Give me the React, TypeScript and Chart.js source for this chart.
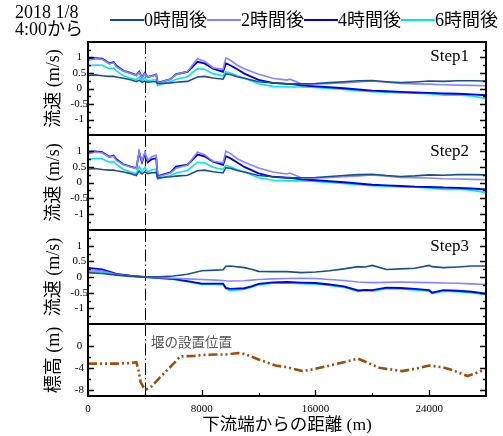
import React, { useEffect, useRef } from "react";
import { Chart, registerables } from "chart.js";

Chart.register(...registerables);

const SERIF = "'Liberation Serif', 'Noto Sans CJK JP', serif";

const seriesLabels = ["0時間後", "2時間後", "4時間後", "6時間後"];
const seriesColors = ["#1B4F8C", "#8585FF", "#0000E6", "#00E5F2"];
const stepLabels = ["Step1", "Step2", "Step3"];
const dateLine1 = "2018 1/8";
const dateLine2 = "4:00から";
const weirLabel = "堰の設置位置";
const velocityTitle = "流速 (m/s)";
const elevationTitle = "標高 (m)";
const distanceTitle = "下流端からの距離 (m)";

// distances (m) for Step1 / Step2
const distStep12 = [0, 500, 1000, 1500, 1800, 2000, 2500, 3000, 3400, 3600, 3800, 4000, 4200, 4500, 4800, 4900, 5200, 5800, 6200, 7000, 7700, 8200, 8800, 9500, 9700, 10000, 10500, 11000, 12000, 13000, 14000, 14200, 15000, 16000, 17000, 18000, 19000, 20000, 21000, 22000, 23000, 24000, 25000, 26000, 27000, 28000];

const step1H0 = [0.42, 0.44, 0.41, 0.39, 0.39, 0.37, 0.33, 0.28, 0.22, 0.27, 0.2, 0.24, 0.2, 0.22, 0.22, 0.16, 0.16, 0.18, 0.2, 0.23, 0.37, 0.39, 0.34, 0.3, 0.47, 0.45, 0.38, 0.33, 0.22, 0.18, 0.15, 0.15, 0.15, 0.16, 0.19, 0.22, 0.25, 0.26, 0.22, 0.19, 0.21, 0.24, 0.23, 0.25, 0.25, 0.24];
const step1H2 = [0.9, 0.96, 0.94, 0.8, 0.83, 0.7, 0.56, 0.49, 0.42, 0.52, 0.36, 0.48, 0.37, 0.4, 0.44, 0.17, 0.22, 0.3, 0.45, 0.55, 0.96, 0.88, 0.67, 0.62, 0.99, 0.92, 0.75, 0.64, 0.46, 0.33, 0.27, 0.3, 0.15, 0.14, 0.16, 0.18, 0.21, 0.24, 0.2, 0.16, 0.15, 0.14, 0.12, 0.11, 0.1, 0.09];
const step1H4 = [0.97, 0.98, 0.96, 0.81, 0.85, 0.73, 0.57, 0.5, 0.43, 0.54, 0.36, 0.5, 0.37, 0.41, 0.45, 0.18, 0.22, 0.3, 0.46, 0.54, 0.86, 0.81, 0.64, 0.54, 0.81, 0.75, 0.62, 0.48, 0.28, 0.18, 0.15, 0.15, 0.1, 0.07, 0.04, 0.01, -0.03, -0.07, -0.09, -0.11, -0.13, -0.14, -0.16, -0.17, -0.19, -0.22];
const step1H6 = [0.73, 0.76, 0.75, 0.64, 0.66, 0.57, 0.41, 0.33, 0.28, 0.37, 0.25, 0.35, 0.24, 0.27, 0.28, 0.09, 0.15, 0.22, 0.3, 0.38, 0.64, 0.62, 0.48, 0.41, 0.54, 0.5, 0.41, 0.33, 0.15, 0.07, 0.05, 0.05, 0.05, 0.03, 0.0, -0.03, -0.07, -0.1, -0.12, -0.14, -0.15, -0.17, -0.22, -0.21, -0.24, -0.32];

const step2H0 = [0.42, 0.44, 0.41, 0.39, 0.39, 0.37, 0.33, 0.28, 0.22, 0.36, 0.27, 0.34, 0.28, 0.31, 0.32, 0.14, 0.16, 0.18, 0.2, 0.23, 0.37, 0.39, 0.34, 0.3, 0.47, 0.45, 0.38, 0.33, 0.22, 0.18, 0.15, 0.15, 0.15, 0.16, 0.19, 0.22, 0.25, 0.26, 0.22, 0.19, 0.21, 0.24, 0.23, 0.25, 0.25, 0.24];
const step2H2 = [0.9, 0.96, 0.94, 0.8, 0.83, 0.7, 0.56, 0.49, 0.44, 0.97, 0.68, 0.95, 0.7, 0.82, 0.86, 0.18, 0.22, 0.3, 0.45, 0.55, 0.96, 0.88, 0.67, 0.62, 0.99, 0.92, 0.75, 0.64, 0.46, 0.33, 0.27, 0.3, 0.15, 0.14, 0.16, 0.18, 0.21, 0.24, 0.2, 0.16, 0.15, 0.14, 0.12, 0.11, 0.1, 0.09];
const step2H4 = [0.97, 0.98, 0.96, 0.81, 0.85, 0.73, 0.57, 0.5, 0.45, 0.95, 0.64, 0.9, 0.64, 0.74, 0.76, 0.2, 0.24, 0.32, 0.5, 0.56, 0.88, 0.83, 0.66, 0.56, 0.83, 0.77, 0.63, 0.49, 0.29, 0.18, 0.15, 0.15, 0.1, 0.07, 0.04, 0.01, -0.03, -0.07, -0.09, -0.11, -0.13, -0.14, -0.16, -0.17, -0.19, -0.22];
const step2H6 = [0.73, 0.76, 0.75, 0.64, 0.66, 0.57, 0.41, 0.33, 0.28, 0.5, 0.36, 0.47, 0.34, 0.4, 0.42, 0.11, 0.15, 0.22, 0.3, 0.38, 0.64, 0.62, 0.48, 0.41, 0.54, 0.5, 0.41, 0.33, 0.15, 0.07, 0.05, 0.05, 0.05, 0.03, 0.0, -0.03, -0.07, -0.1, -0.12, -0.14, -0.15, -0.17, -0.22, -0.21, -0.24, -0.32];

// distances (m) for Step3
const distStep3 = [0, 1000, 2000, 3000, 4000, 5000, 6000, 7000, 8000, 9000, 9500, 9700, 10000, 11000, 11500, 12000, 13000, 14000, 15000, 16000, 17000, 18000, 19000, 19500, 20000, 21000, 22000, 23000, 24000, 24200, 25000, 26000, 27000, 28000];
const step3H0 = [0.14, 0.11, 0.06, 0.02, 0, 0.01, 0.03, 0.09, 0.2, 0.22, 0.23, 0.34, 0.35, 0.3, 0.25, 0.18, 0.17, 0.17, 0.14, 0.16, 0.2, 0.26, 0.33, 0.32, 0.37, 0.24, 0.26, 0.28, 0.37, 0.33, 0.3, 0.32, 0.35, 0.35];
const step3H2 = [0.24, 0.2, 0.08, 0.03, 0, -0.02, -0.04, -0.06, -0.08, -0.1, -0.11, -0.12, -0.13, -0.12, -0.1, -0.08, -0.06, -0.05, -0.04, -0.05, -0.08, -0.11, -0.16, -0.17, -0.18, -0.17, -0.16, -0.17, -0.18, -0.18, -0.19, -0.2, -0.22, -0.24];
const step3H4 = [0.29, 0.24, 0.1, 0.04, 0, -0.03, -0.06, -0.13, -0.21, -0.21, -0.21, -0.35, -0.38, -0.36, -0.3, -0.22, -0.17, -0.16, -0.18, -0.19, -0.24, -0.3, -0.43, -0.41, -0.42, -0.34, -0.35, -0.38, -0.42, -0.5, -0.42, -0.44, -0.47, -0.53];
const step3H6 = [0.18, 0.16, 0.08, 0.03, 0, -0.04, -0.08, -0.15, -0.24, -0.24, -0.25, -0.38, -0.44, -0.39, -0.33, -0.25, -0.2, -0.19, -0.21, -0.22, -0.27, -0.33, -0.46, -0.44, -0.45, -0.37, -0.38, -0.41, -0.45, -0.53, -0.45, -0.47, -0.51, -0.56];

// bed elevation
const distBed = [0, 2000, 3000, 3400, 3550, 3700, 3900, 4100, 4500, 5000, 5500, 6000, 6500, 7500, 8000, 9000, 9700, 10600, 11000, 12000, 13200, 14000, 15100, 16000, 17000, 18000, 19000, 20500, 22100, 23000, 24000, 24900, 25500, 26700, 28000];
const bedElevation = [-3.15, -3.15, -3.05, -2.9, -4.3, -6.5, -7.4, -7.8, -7.2, -5.8, -4.5, -3.2, -1.85, -1.75, -1.6, -1.5, -1.5, -1.25, -1.4, -2.4, -3.5, -3.8, -4.5, -4.1, -3.5, -2.9, -2.25, -3.9, -4.5, -4.1, -3.5, -3.8, -4.2, -5.4, -4.2];
const bedColor = "#9A4F10";

const xTickLabels = [0, 8000, 16000, 24000];
const xMinorTicks = [4000, 12000, 20000];
const velTickLabels = [-1, -0.5, 0, 0.5, 1];
const velMajor = [-1, -0.5, 0, 0.5, 1];
const velMinor = [-1.25, -0.75, -0.25, 0.25, 0.75, 1.25];
const elevTickLabels = [0, -4, -8];
const elevMajor = [0, -4, -8];
const elevMinor = [2, -2, -6];
const weirDistance = 4000;

type PanelSpec = {
  top: number;
  height: number;
  padTop: number;
  padBottom: number;
  datasets: any[];
  yMin: number;
  yMax: number;
  yLabels: number[];
  major: number[];
  minor: number[];
  yTitle: string;
  tickPad: number;
  showX: boolean;
};

function velocitySets(xs: number[], series: number[][]) {
  return series.map((vals, i) => ({
    label: seriesLabels[i],
    data: xs.map((x, j) => ({ x, y: vals[j] })),
    borderColor: seriesColors[i],
    borderWidth: i === 2 ? 1.9 : 1.6,
    pointRadius: 0,
    tension: 0,
    fill: false,
  }));
}

const panels: PanelSpec[] = [
  { top: 30, height: 117, padTop: 12, padBottom: 12, datasets: velocitySets(distStep12, [step1H0, step1H2, step1H4, step1H6]), yMin: -1.5, yMax: 1.5, yLabels: velTickLabels, major: velMajor, minor: velMinor, yTitle: velocityTitle, tickPad: 0, showX: false },
  { top: 123, height: 119, padTop: 12, padBottom: 12, datasets: velocitySets(distStep12, [step2H0, step2H2, step2H4, step2H6]), yMin: -1.5, yMax: 1.5, yLabels: velTickLabels, major: velMajor, minor: velMinor, yTitle: velocityTitle, tickPad: 0, showX: false },
  { top: 218, height: 118, padTop: 12, padBottom: 12, datasets: velocitySets(distStep3, [step3H0, step3H2, step3H4, step3H6]), yMin: -1.5, yMax: 1.5, yLabels: velTickLabels, major: velMajor, minor: velMinor, yTitle: velocityTitle, tickPad: 0, showX: false },
  {
    top: 312, height: 124, padTop: 12, padBottom: 0,
    datasets: [{
      label: "標高",
      data: distBed.map((x, j) => ({ x, y: bedElevation[j] })),
      borderColor: bedColor,
      borderWidth: 2.6,
      borderDash: [9, 3, 2, 3, 2, 3],
      pointRadius: 0,
      tension: 0,
      fill: false,
    }],
    yMin: -9, yMax: 4, yLabels: elevTickLabels, major: elevMajor, minor: elevMinor, yTitle: elevationTitle, tickPad: 4, showX: true,
  },
];

function decorPlugin(spec: PanelSpec) {
  return {
    id: "decor",
    beforeDatasetsDraw(chart: any) {
      const { ctx, chartArea: a } = chart;
      const x = Math.round(chart.scales.x.getPixelForValue(weirDistance)) + 0.5;
      ctx.save();
      ctx.strokeStyle = "#000";
      ctx.lineWidth = 1;
      ctx.setLineDash([12, 3, 1.5, 3]);
      ctx.beginPath();
      ctx.moveTo(x, a.top);
      ctx.lineTo(x, a.bottom);
      ctx.stroke();
      ctx.restore();
    },
    afterDraw(chart: any) {
      const { ctx, chartArea: a } = chart;
      const ys = chart.scales.y;
      const xs = chart.scales.x;
      ctx.save();
      ctx.strokeStyle = "#000";
      ctx.lineWidth = 1.3;
      ctx.beginPath();
      const yt = (vals: number[], len: number) => {
        for (const v of vals) {
          const py = Math.round(ys.getPixelForValue(v)) + 0.5;
          ctx.moveTo(a.left, py);
          ctx.lineTo(a.left + len, py);
          ctx.moveTo(a.right, py);
          ctx.lineTo(a.right - len, py);
        }
      };
      yt(spec.major, 6);
      yt(spec.minor, 3);
      if (spec.showX) {
        const xt = (vals: number[], len: number) => {
          for (const v of vals) {
            const px = Math.round(xs.getPixelForValue(v)) + 0.5;
            ctx.moveTo(px, a.bottom);
            ctx.lineTo(px, a.bottom - len);
          }
        };
        xt(xTickLabels, 6);
        xt(xMinorTicks, 3);
      }
      ctx.stroke();
      ctx.lineWidth = 2;
      ctx.strokeRect(a.left, a.top, a.right - a.left, a.bottom - a.top);
      ctx.restore();
    },
  };
}

function makeConfig(spec: PanelSpec): any {
  return {
    type: "line",
    data: { datasets: spec.datasets },
    options: {
      animation: false,
      responsive: false,
      maintainAspectRatio: false,
      layout: { padding: { top: spec.padTop, bottom: spec.padBottom, left: 0, right: 17 } },
      plugins: { legend: { display: false }, tooltip: { enabled: false } },
      scales: {
        x: {
          type: "linear",
          min: 0,
          max: 28000,
          display: spec.showX,
          afterBuildTicks: (s: any) => {
            s.ticks = xTickLabels.map((v) => ({ value: v }));
          },
          afterFit: (s: any) => {
            if (spec.showX) s.height = 40;
          },
          grid: { display: false, drawTicks: false },
          border: { display: false },
          ticks: {
            font: { family: SERIF, size: 11 },
            color: "#000",
            padding: 7,
            maxRotation: 0,
            callback: (v: any) => String(v),
          },
          title: {
            display: true,
            text: distanceTitle,
            font: { family: SERIF, size: 17.5 },
            color: "#000",
            padding: { top: 0, bottom: 0 },
          },
        },
        y: {
          type: "linear",
          min: spec.yMin,
          max: spec.yMax,
          afterBuildTicks: (s: any) => {
            s.ticks = spec.yLabels.map((v) => ({ value: v }));
          },
          afterFit: (s: any) => {
            s.width = 88;
          },
          grid: { display: false, drawTicks: false },
          border: { display: false },
          ticks: {
            font: { family: SERIF, size: 11 },
            color: "#000",
            padding: spec.tickPad,
            crossAlign: "center",
            callback: (v: any) => String(v),
          },
          title: {
            display: true,
            text: spec.yTitle,
            font: { family: SERIF, size: 18 },
            color: "#000",
            padding: { top: 43, bottom: 0 },
          },
        },
      },
    },
    plugins: [decorPlugin(spec)],
  };
}

export default function App() {
  const refs = useRef<(HTMLCanvasElement | null)[]>([]);

  useEffect(() => {
    const charts = panels.map((p, i) => new Chart(refs.current[i] as HTMLCanvasElement, makeConfig(p)));
    return () => charts.forEach((c) => c.destroy());
  }, []);

  const stepTops = [47, 142, 237];

  return (
    <div style={{ position: "absolute", left: 0, top: 0, width: 503, height: 436, overflow: "hidden", background: "#fff", fontFamily: SERIF, color: "#000" }}>
      {panels.map((p, i) => (
        <canvas
          key={i}
          ref={(el) => { refs.current[i] = el; }}
          width={503}
          height={p.height}
          style={{ position: "absolute", left: 0, top: p.top, width: 503, height: p.height }}
        />
      ))}
      <div style={{ position: "absolute", left: 15, top: 4, fontSize: 18, lineHeight: "17px", whiteSpace: "nowrap" }}>
        <div>{dateLine1}</div>
        <div>{dateLine2}</div>
      </div>
      <div style={{ position: "absolute", left: 110, top: 9, height: 22, display: "flex", alignItems: "center", whiteSpace: "nowrap", fontSize: 18 }}>
        {seriesLabels.map((l, i) => (
          <React.Fragment key={l}>
            <span style={{ display: "inline-block", width: 34, height: 1.6, background: seriesColors[i] }} />
            <span style={{ lineHeight: "22px" }}>{l}</span>
          </React.Fragment>
        ))}
      </div>
      {stepLabels.map((s, i) => (
        <div key={s} style={{ position: "absolute", right: 34, top: stepTops[i], fontSize: 17, lineHeight: "17px" }}>{s}</div>
      ))}
      <div style={{ position: "absolute", left: 151, top: 334, fontSize: 13.5, lineHeight: "14px", color: "#555", fontFamily: "'Noto Sans CJK JP', sans-serif", whiteSpace: "nowrap" }}>{weirLabel}</div>
    </div>
  );
}
